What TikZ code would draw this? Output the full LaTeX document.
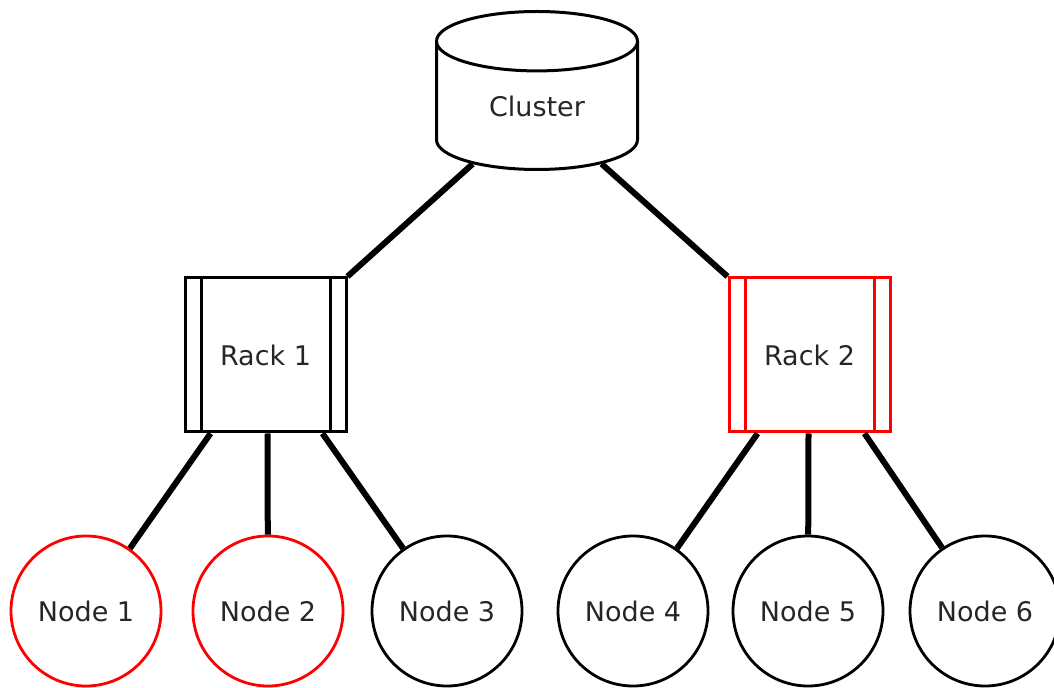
\documentclass[tikz,border=0pt]{standalone}
\usepackage{fontspec}
\setmainfont{DejaVu Sans}
\usetikzlibrary{shapes.geometric}
\begin{document}
\begin{tikzpicture}[x=0.5pt,y=-0.5pt,
    every node/.style={font=\fontsize{13.5}{16}\selectfont, text=black!85},
    link/.style={line width=3pt},
    store/.style={cylinder, shape border rotate=90, aspect=0.62, draw, line width=1.5pt,
      minimum width=100.5pt, minimum height=79pt, inner sep=0pt},
    rack/.style={rectangle, draw, line width=1.5pt, minimum width=80.5pt, minimum height=77pt,
      path picture={
        \draw[line width=1.5pt] ([xshift=8pt]path picture bounding box.north west) -- ([xshift=8pt]path picture bounding box.south west);
        \draw[line width=1.5pt] ([xshift=-8pt]path picture bounding box.north east) -- ([xshift=-8pt]path picture bounding box.south east);}},
    host/.style={circle, draw, line width=1.4pt, minimum size=75pt, inner sep=0pt}]
    \useasboundingbox (0,0) rectangle (1054,688);
    \node[store, anchor=north] (cluster) at (537,10) {Cluster};
    \node[rack] (rack1) at (265.5,355) {Rack 1};
    \node[rack, color=red, text=black!85] (rack2) at (809.5,355) {Rack 2};
    \node[host, draw=red] (n1) at (86,611) {Node 1};
    \node[host, draw=red] (n2) at (268,611) {Node 2};
    \node[host] (n3) at (447,611) {Node 3};
    \node[host] (n4) at (633,611) {Node 4};
    \node[host] (n5) at (808,611) {Node 5};
    \node[host] (n6) at (985,611) {Node 6};
    % links
    \draw[link] (cluster) -- (rack1.north east);
    \draw[link] (cluster) -- (rack2.north west);
    \draw[link] ([xshift=-27.5pt]rack1.south) -- (n1);
    \draw[link] ([xshift=1pt]rack1.south) -- (n2);
    \draw[link] ([xshift=28.5pt]rack1.south) -- (n3);
    \draw[link] ([xshift=-26pt]rack2.south) -- (n4);
    \draw[link] ([xshift=-0.5pt]rack2.south) -- (n5);
    \draw[link] ([xshift=27.5pt]rack2.south) -- (n6);
\end{tikzpicture}
\end{document}
